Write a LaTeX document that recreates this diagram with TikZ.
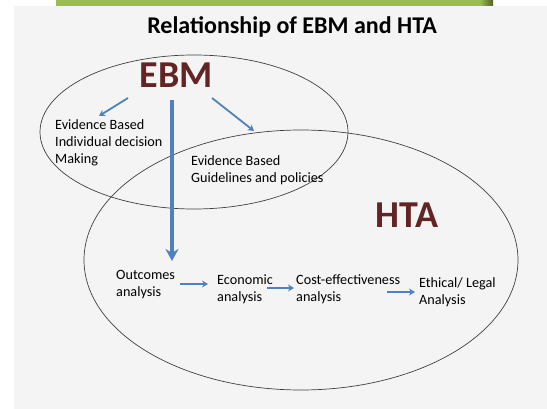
\documentclass[tikz,border=0pt]{standalone}
\usepackage{fontspec}
\setmainfont{Carlito}
\usetikzlibrary{arrows.meta,positioning}
\definecolor{ebmred}{HTML}{632523}
\definecolor{arrowblue}{HTML}{4F81BD}
\definecolor{panelgray}{HTML}{F4F4F4}
\definecolor{bargreen}{HTML}{9BBB59}
\definecolor{bardark}{HTML}{4F6228}

\begin{document}
\begin{tikzpicture}
[x=1pt,y=-1pt,
every node/.style={font=\fontsize{14.2}{17}\selectfont,align=left,inner sep=2pt,text=black},
step text/.style={anchor=west},
big name/.style={font=\fontsize{38}{40}\selectfont\bfseries,text=ebmred},
set/.style={draw=black!75,line width=0.7pt},
flow/.style={draw=arrowblue,line width=1.8pt,-{Stealth[length=6pt,width=7pt]}},
main flow/.style={draw=arrowblue,line width=3.2pt,-{Stealth[length=12pt,width=13pt]}}]
\useasboundingbox (0,0) rectangle (547,409);
\fill[white] (0,0) rectangle (547,409);
\fill[panelgray] (14,6) rectangle (547,409);
\fill[bargreen] (56,0) rectangle (480,6);
\shade[left color=bargreen,right color=bardark] (480,0) rectangle (493,6);

\draw[set] (194,132) ellipse [x radius=154,y radius=77];
\draw[set] (301,260) ellipse [x radius=217,y radius=130];

\node[font=\fontsize{24}{26}\selectfont\bfseries] (title) at (292,27) {Relationship of EBM and HTA};
\node[big name] (ebm) at (176,75) {EBM};
\node[big name] (hta) at (407,215) {HTA};

\node[step text] (indiv) at (53,143) {Evidence Based\\Individual decision\\Making};
\node[step text] (guide) at (189,170) {Evidence Based\\Guidelines and policies};
\node[step text] (outcomes) at (114,285) {Outcomes\\analysis};
\node[step text] (economic) at (215,289) {Economic\\analysis};
\node[step text] (costeff) at (294,289) {Cost-effectiveness\\analysis};
\node[step text] (ethical) at (417,292) {Ethical/ Legal\\Analysis};

\coordinate (indivtip) at (99,116);
\coordinate (indivtail) at (128,98);
\coordinate (guidetail) at (212,98);
\coordinate (guidetip) at (254,131);
\coordinate (maintail) at (172,100);
\coordinate (maintip) at (172,261);
\coordinate (econtail) at (180,284);
\coordinate (econtip) at (208,284);
\coordinate (costtail) at (267,288);
\coordinate (costtip) at (294,288);
\coordinate (ethtail) at (387,292);
\coordinate (ethtip) at (415,292);

\draw[flow] (indivtail) -- (indivtip);
\draw[flow] (guidetail) -- (guidetip);
\draw[main flow] (maintail) -- (maintip);
\draw[flow] (econtail) -- (econtip);
\draw[flow] (costtail) -- (costtip);
\draw[flow] (ethtail) -- (ethtip);
\end{tikzpicture}
\end{document}
